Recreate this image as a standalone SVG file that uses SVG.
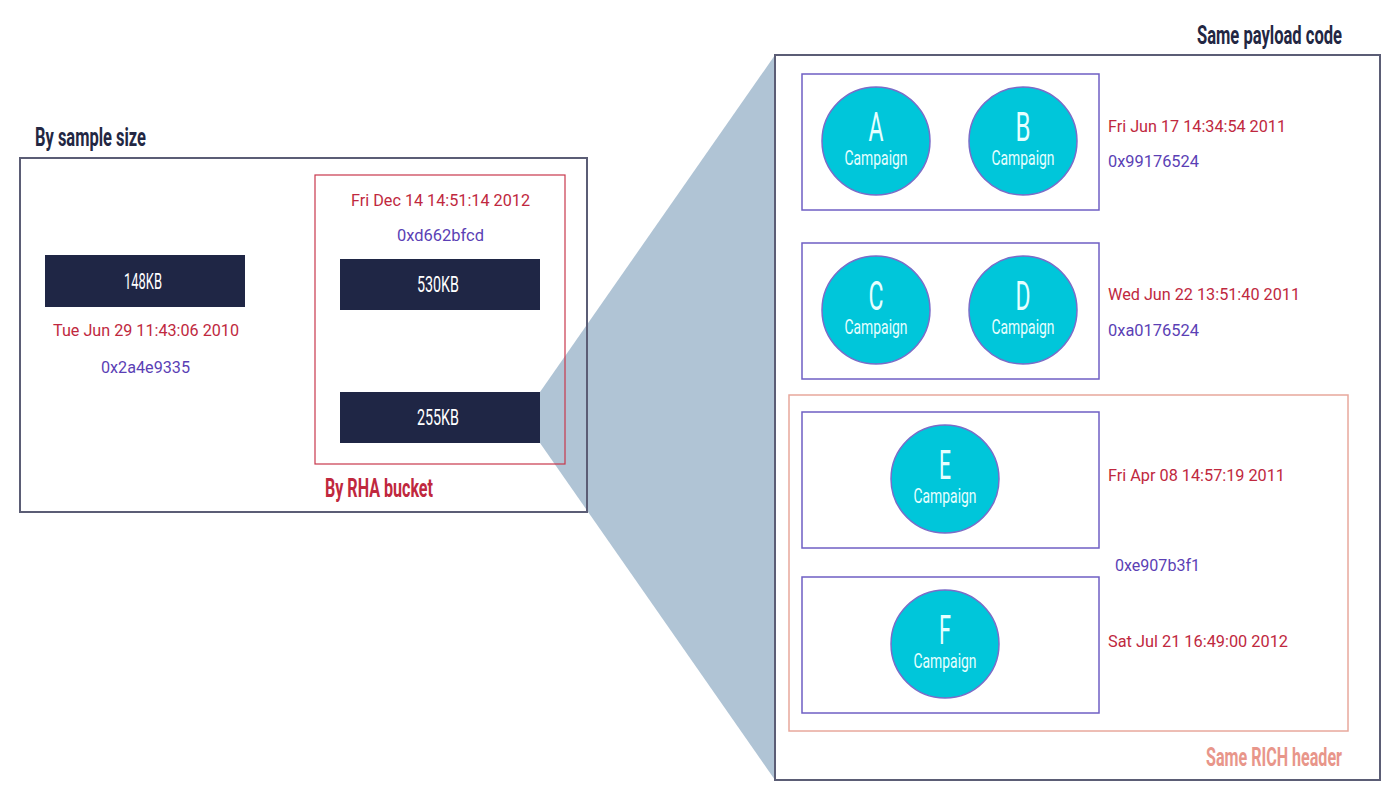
<svg xmlns="http://www.w3.org/2000/svg" width="1400" height="801" viewBox="0 0 1400 801">
<style>
.frame{fill:none;stroke:#5b5d75;stroke-width:2}
.bar{fill:#1f2645}
.barT{font-family:Roboto,"Liberation Sans",sans-serif;font-size:22px;fill:#ffffff;text-anchor:middle}
.date{font-family:Roboto,"Liberation Sans",sans-serif;font-size:16px;fill:#c0283e}
.hex{font-family:Roboto,"Liberation Sans",sans-serif;font-size:16px;fill:#5b3fb5}
.title{font-family:Roboto,"Liberation Sans",sans-serif;font-size:26px;font-weight:700;fill:#232743}
.grp{fill:none;stroke:#6f5fc4;stroke-width:1.5}
.circ{fill:#00c6da;stroke:#7a6cc8;stroke-width:1.5}
.letter{font-family:Roboto,"Liberation Sans",sans-serif;font-size:40px;fill:#e6ffff;text-anchor:middle}
.camp{font-family:Roboto,"Liberation Sans",sans-serif;font-size:20px;fill:#e6ffff;text-anchor:middle}
</style>
<rect width="1400" height="801" fill="#ffffff"/>
<g id="connectors">
<polygon points="540,392 775,55 775,780 540,443" fill="#b0c4d5"/>
</g>
<g id="sample-size">
<rect class="frame" x="20" y="158" width="567" height="354"/>
<text class="title" x="35" y="146" textLength="111" lengthAdjust="spacingAndGlyphs">By sample size</text>
</g>
<g id="node-148kb">
<rect class="bar" x="45" y="255" width="200" height="52"/>
<text class="barT" x="143" y="289" textLength="38" lengthAdjust="spacingAndGlyphs">148KB</text>
<text class="date" x="53" y="336" textLength="186" lengthAdjust="spacingAndGlyphs">Tue Jun 29 11:43:06 2010</text>
<text class="hex" x="101" y="373" textLength="89" lengthAdjust="spacingAndGlyphs">0x2a4e9335</text>
</g>
<g id="rha-bucket">
<rect x="315" y="175" width="250" height="289" fill="none" stroke="#c8384c" stroke-width="1.2"/>
<text class="date" x="351" y="206" textLength="179" lengthAdjust="spacingAndGlyphs">Fri Dec 14 14:51:14 2012</text>
<text class="hex" x="397" y="241" textLength="87" lengthAdjust="spacingAndGlyphs">0xd662bfcd</text>
<text class="title" x="325" y="497" textLength="108" lengthAdjust="spacingAndGlyphs" style="fill:#c0283e">By RHA bucket</text>
</g>
<g id="node-530kb">
<rect class="bar" x="340" y="259" width="200" height="51"/>
<text class="barT" x="438" y="292" textLength="42" lengthAdjust="spacingAndGlyphs">530KB</text>
</g>
<g id="node-255kb">
<rect class="bar" x="340" y="392" width="200" height="51"/>
<text class="barT" x="438" y="425" textLength="42" lengthAdjust="spacingAndGlyphs">255KB</text>
</g>
<g id="payload">
<rect class="frame" x="775" y="55" width="605" height="725"/>
<text class="title" x="1197" y="44" textLength="145" lengthAdjust="spacingAndGlyphs">Same payload code</text>
</g>
<g id="group-ab">
<rect class="grp" x="802" y="74" width="297" height="136"/>
<text class="date" x="1108" y="132" textLength="178" lengthAdjust="spacingAndGlyphs">Fri Jun 17 14:34:54 2011</text>
<text class="hex" x="1108" y="167" textLength="91" lengthAdjust="spacingAndGlyphs">0x99176524</text>
</g>
<g id="campaign-a">
<circle class="circ" cx="876" cy="141" r="54"/>
<text class="letter" x="876" y="141" textLength="15" lengthAdjust="spacingAndGlyphs">A</text>
<text class="camp" x="876" y="165" textLength="63" lengthAdjust="spacingAndGlyphs">Campaign</text>
</g>
<g id="campaign-b">
<circle class="circ" cx="1023" cy="141" r="54"/>
<text class="letter" x="1023" y="141" textLength="15" lengthAdjust="spacingAndGlyphs">B</text>
<text class="camp" x="1023" y="165" textLength="63" lengthAdjust="spacingAndGlyphs">Campaign</text>
</g>
<g id="group-cd">
<rect class="grp" x="802" y="243" width="297" height="136"/>
<text class="date" x="1108" y="300" textLength="192" lengthAdjust="spacingAndGlyphs">Wed Jun 22 13:51:40 2011</text>
<text class="hex" x="1108" y="336" textLength="91" lengthAdjust="spacingAndGlyphs">0xa0176524</text>
</g>
<g id="campaign-c">
<circle class="circ" cx="876" cy="310" r="54"/>
<text class="letter" x="876" y="310" textLength="15" lengthAdjust="spacingAndGlyphs">C</text>
<text class="camp" x="876" y="334" textLength="63" lengthAdjust="spacingAndGlyphs">Campaign</text>
</g>
<g id="campaign-d">
<circle class="circ" cx="1023" cy="310" r="54"/>
<text class="letter" x="1023" y="310" textLength="15" lengthAdjust="spacingAndGlyphs">D</text>
<text class="camp" x="1023" y="334" textLength="63" lengthAdjust="spacingAndGlyphs">Campaign</text>
</g>
<g id="rich-header">
<rect x="789" y="395" width="559" height="336" fill="none" stroke="#e8a89c" stroke-width="1.5"/>
<text class="hex" x="1115" y="571" textLength="85" lengthAdjust="spacingAndGlyphs">0xe907b3f1</text>
<text class="title" x="1206" y="766" textLength="136" lengthAdjust="spacingAndGlyphs" style="fill:#e8968a">Same RICH header</text>
</g>
<g id="group-e">
<rect class="grp" x="802" y="412" width="297" height="136"/>
<text class="date" x="1108" y="481" textLength="177" lengthAdjust="spacingAndGlyphs">Fri Apr 08 14:57:19 2011</text>
</g>
<g id="campaign-e">
<circle class="circ" cx="945" cy="479" r="54"/>
<text class="letter" x="945" y="479" textLength="12" lengthAdjust="spacingAndGlyphs">E</text>
<text class="camp" x="945" y="503" textLength="63" lengthAdjust="spacingAndGlyphs">Campaign</text>
</g>
<g id="group-f">
<rect class="grp" x="802" y="577" width="297" height="136"/>
<text class="date" x="1108" y="647" textLength="180" lengthAdjust="spacingAndGlyphs">Sat Jul 21 16:49:00 2012</text>
</g>
<g id="campaign-f">
<circle class="circ" cx="945" cy="644" r="54"/>
<text class="letter" x="945" y="644" textLength="12" lengthAdjust="spacingAndGlyphs">F</text>
<text class="camp" x="945" y="668" textLength="63" lengthAdjust="spacingAndGlyphs">Campaign</text>
</g>
</svg>
